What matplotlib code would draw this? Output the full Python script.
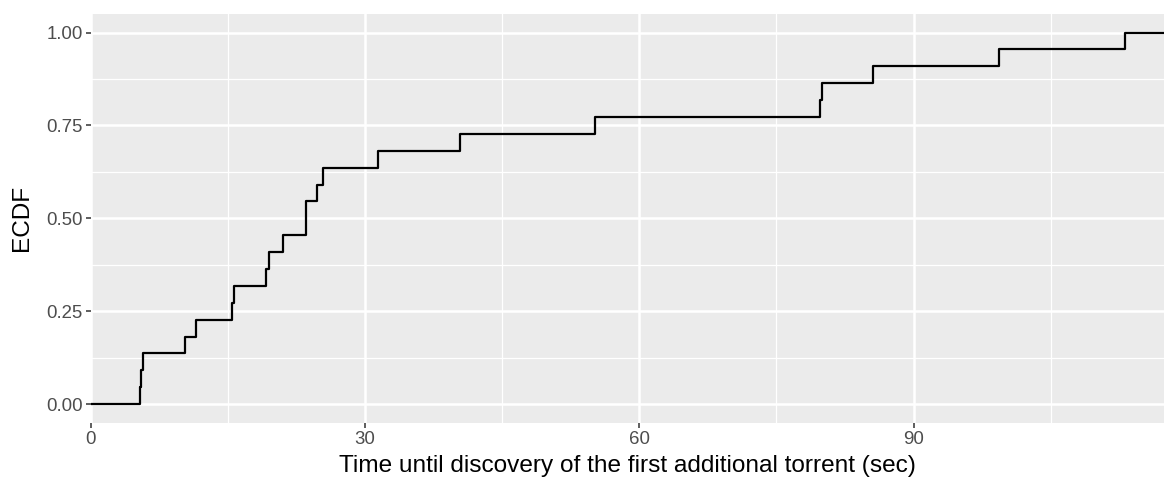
import numpy as np
import matplotlib.pyplot as plt
from matplotlib.ticker import MultipleLocator

# discovery times (sec), read from the step positions
times = [5.33, 5.47, 5.65, 10.32, 11.49, 15.46, 15.61, 19.18, 19.51, 20.96,
         23.48, 23.55, 24.68, 25.37, 31.43, 40.36, 55.12, 79.73, 79.95,
         85.56, 99.30, 113.08]
x_ticks = [0, 30, 60, 90]
y_ticks = [0.0, 0.25, 0.5, 0.75, 1.0]
y_tick_labels = ["0.00", "0.25", "0.50", "0.75", "1.00"]
X_MAX = 117.4

plt.rcParams["font.family"] = ["Liberation Sans", "DejaVu Sans"]

def ecdf_steps(vals, x_lo, x_hi):
    v = np.sort(np.asarray(vals, dtype=float))
    n = v.size
    xs = np.concatenate([[x_lo], v, [x_hi]])
    ys = np.concatenate([[0.0], np.arange(1, n + 1) / n, [1.0]])
    return xs, ys

fig = plt.figure(figsize=(11.64, 4.8), dpi=100)
ax = fig.add_axes([91 / 1164, 1 - 422.7 / 480, 1 - 91 / 1164, (422.7 - 14) / 480])
ax.set_facecolor("#EBEBEB")

xs, ys = ecdf_steps(times, 0, X_MAX)
ax.step(xs, ys, where="post", color="black", lw=1.6, zorder=3)

ax.set_xlim(0, X_MAX)
ax.set_ylim(-0.05, 1.05)
ax.set_xticks(x_ticks)
ax.set_yticks(y_ticks)
ax.set_yticklabels(y_tick_labels)
ax.xaxis.set_minor_locator(MultipleLocator(15))
ax.yaxis.set_minor_locator(MultipleLocator(0.125))

ax.grid(which="major", color="white", lw=1.8)
ax.grid(which="minor", color="white", lw=0.9)
ax.set_axisbelow(True)
for s in ax.spines.values():
    s.set_visible(False)

ax.tick_params(which="major", length=3.6, width=1.1, color="#333333",
               labelcolor="#4D4D4D", labelsize=13.4, pad=2.5)
ax.tick_params(which="minor", length=0)

ax.set_xlabel("Time until discovery of the first additional torrent (sec)",
              fontsize=17.6, color="black", labelpad=5)
ax.set_ylabel("ECDF", fontsize=17.6, color="black", labelpad=9)

fig.savefig("out.png", dpi=100)
